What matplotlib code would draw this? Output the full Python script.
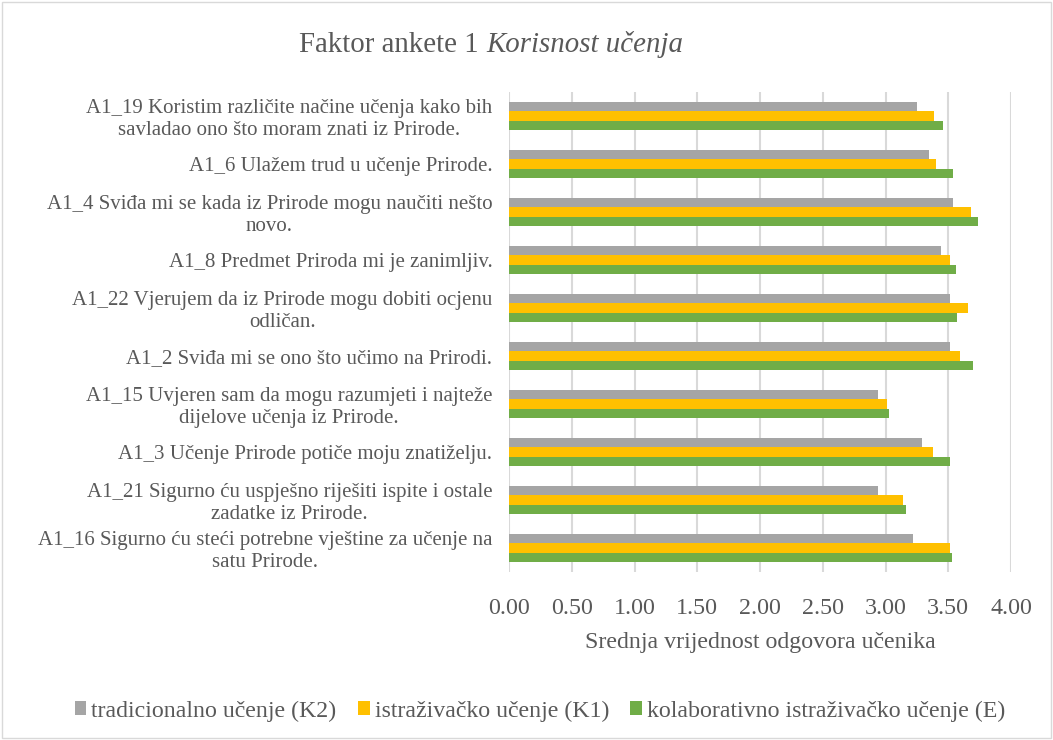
import numpy as np
import matplotlib.pyplot as plt
from matplotlib.patches import Rectangle

plt.rcParams['font.family'] = ['Liberation Serif', 'DejaVu Serif']

# Kategorije (odozgo prema dolje)
pitanja = [
    'A1_19 Koristim različite načine učenja kako bih\nsavladao ono što moram znati iz Prirode.',
    'A1_6 Ulažem trud u učenje Prirode.',
    'A1_4 Sviđa mi se kada iz Prirode mogu naučiti nešto\nnovo.',
    'A1_8 Predmet Priroda mi je zanimljiv.',
    'A1_22 Vjerujem da iz Prirode mogu dobiti ocjenu\nodličan.',
    'A1_2 Sviđa mi se ono što učimo na Prirodi.',
    'A1_15 Uvjeren sam da mogu razumjeti i najteže\ndijelove učenja iz Prirode.',
    'A1_3 Učenje Prirode potiče moju znatiželju.',
    'A1_21 Sigurno ću uspješno riješiti ispite i ostale\nzadatke iz Prirode.',
    'A1_16 Sigurno ću steći potrebne vještine za učenje na\nsatu Prirode.',
]

tradicionalno = [3.25, 3.35, 3.54, 3.44, 3.51, 3.51, 2.94, 3.29, 2.94, 3.22]
istrazivacko = [3.39, 3.40, 3.68, 3.51, 3.66, 3.59, 3.01, 3.38, 3.14, 3.51]
kolaborativno = [3.46, 3.54, 3.74, 3.56, 3.57, 3.70, 3.03, 3.51, 3.16, 3.53]

x_ticks = [0, 0.5, 1, 1.5, 2, 2.5, 3, 3.5, 4]

siva = '#a5a5a5'
zuta = '#ffc000'
zelena = '#70ad47'
tekst = '#595959'

fig = plt.figure(figsize=(10.53, 7.4), dpi=100)
ax = fig.add_axes([509/1053, 1 - 572/740, 502/1053, 480/740])

y = np.arange(len(pitanja))
h = 0.195
ax.barh(y - h, tradicionalno, height=h, color=siva, label='tradicionalno učenje (K2)')
ax.barh(y, istrazivacko, height=h, color=zuta, label='istraživačko učenje (K1)')
ax.barh(y + h, kolaborativno, height=h, color=zelena, label='kolaborativno istraživačko učenje (E)')

ax.set_ylim(len(pitanja) - 0.5, -0.5)
ax.set_xlim(0, 4)
ax.set_xticks(x_ticks)
ax.set_xticklabels(['%.2f' % v for v in x_ticks])
ax.set_yticks(y)
ax.set_yticklabels(pitanja, multialignment='center', linespacing=1.15)
ax.tick_params(axis='y', length=0, pad=12, labelsize=15.0, labelcolor=tekst)
ax.tick_params(axis='x', length=0, pad=19, labelsize=17.3, labelcolor=tekst)
for s in ax.spines.values():
    s.set_visible(False)
ax.grid(axis='x', color='#d9d9d9', linewidth=1.5)
ax.set_axisbelow(True)

ax.set_xlabel('Srednja vrijednost odgovora učenika', fontsize=17.2, color=tekst, labelpad=9)

fig.text(486/1053, 1 - 45/740, 'Faktor ankete 1 ', fontsize=20.8, color=tekst, ha='right', va='center')
fig.text(486/1053, 1 - 45/740, 'Korisnost učenja', fontsize=20.8, color=tekst, ha='left', va='center', style='italic')

fig.legend(loc='center', bbox_to_anchor=(540/1053, 1 - 711/740), ncol=3, frameon=False,
           fontsize=17.2, labelcolor=tekst, handlelength=0.5, handleheight=0.5,
           handletextpad=0.2, columnspacing=0.9)

fig.patches.append(Rectangle((0.002, 0.003), 0.996, 0.994, transform=fig.transFigure,
                             fill=False, edgecolor='#d9d9d9', linewidth=1))

plt.savefig('out.png', dpi=100)
